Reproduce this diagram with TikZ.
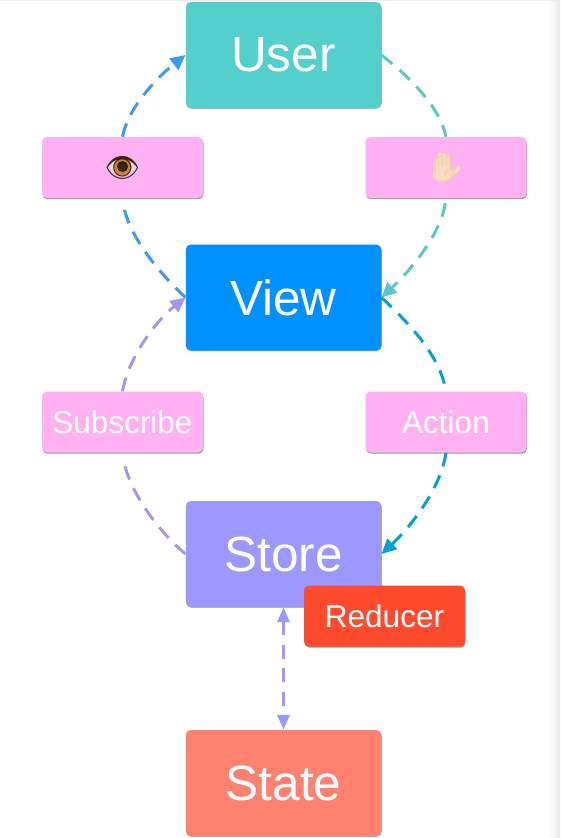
\documentclass[tikz,border=0pt]{standalone}
\usepackage{fontspec}
\setmainfont{Liberation Sans}
\newfontfamily\emojifont{Noto Emoji}
\usetikzlibrary{positioning,shadows,arrows.meta}
\definecolor{usercol}{HTML}{54D0CC}
\definecolor{viewcol}{HTML}{0090FF}
\definecolor{storecol}{HTML}{9C98FF}
\definecolor{statecol}{HTML}{FF8170}
\definecolor{pinkcol}{HTML}{FFB1F2}
\definecolor{reducercol}{HTML}{FF4A2E}
\definecolor{eyecol}{HTML}{3A9BF0}
\definecolor{handcol}{HTML}{5CC7C8}
\definecolor{actioncol}{HTML}{06A0D4}
\definecolor{subcol}{HTML}{A498EE}
\definecolor{skincol}{HTML}{F9DDBE}
\tikzset{
  bigbox/.style={rounded corners=5pt,minimum width=195.5pt,minimum height=106pt,inner sep=0pt,text=white,
    font=\fontsize{49.5}{49}\selectfont,drop shadow={shadow xshift=0.5pt,shadow yshift=-0.8pt,fill=black!30,opacity=1}},
  smallbox/.style={rounded corners=5pt,minimum width=161pt,minimum height=61pt,inner sep=0pt,text=white,
    font=\fontsize{31.5}{32}\selectfont,drop shadow={shadow xshift=0.5pt,shadow yshift=-1.2pt,fill=black!40,opacity=1}},
  flowend/.style={line width=3pt,dash pattern=on 14pt off 9.5pt},
  flow/.style={flowend,-{Triangle[length=15pt,width=14pt]}}
}
\begin{document}
\begin{tikzpicture}[x=1pt,y=-1pt]
      \useasboundingbox (0,0) rectangle (560,838);
      \fill[white] (0,0) rectangle (560,838);
      \shade[left color=white,right color=black!9] (549,0) rectangle (560,838);
      \fill[black!7] (0,0) rectangle (560,1);

      \node[bigbox,fill=usercol] (user) at (283.5,55) {User};
      \node[bigbox,fill=viewcol] (view) at (283.5,297.5) {View};
      \node[bigbox,fill=storecol] (store) at (283.5,554) {Store};
      \node[bigbox,fill=statecol] (state) at (283.5,783) {State};
      \node[smallbox,fill=pinkcol] (eye) at (122.5,167.5) {};
      \node[smallbox,fill=pinkcol] (hand) at (446,167.5) {};
      \node[smallbox,fill=pinkcol] (subscribe) at (122.5,422) {Subscribe};
      \node[smallbox,fill=pinkcol] (action) at (446,422) {Action};
      \node[smallbox,fill=reducercol] (reducer) at (384.5,616) {Reducer};

      \begin{scope}[shift={(eye.center)}]
        \fill[black!12] (-15,-1) .. controls (-6,-13) and (6,-13) .. (15,-1) .. controls (6,11) and (-6,11) .. cycle;
        \fill[brown!70!orange] (0,-1) circle (9);
        \fill[black!80!brown] (0,-1) circle (5.5);
      \end{scope}
      \begin{scope}[shift={(hand.center)}]
        \fill[skincol] (-4,6) circle (9);
        \draw[skincol,line width=4.5pt,line cap=round] (-10,3) -- (-10,-6) (-6,2) -- (-6,-13) (-2,2) -- (-2,-13) (2,4) -- (2,-10) (3,9) -- (12,1);
      \end{scope}
      \node[font=\emojifont\fontsize{28}{28}\selectfont,text=black!70!brown] (eyeglyph) at (eye) {👁};
      \node[font=\emojifont\fontsize{29}{29}\selectfont,text=skincol!85!brown] (handglyph) at (hand) {✋};

      \draw[flowend,eyecol,shorten >=5pt] (view.west) .. controls +(-30,-28) and +(5,35) .. (eye.south);
      \draw[flow,eyecol] (eye.north) .. controls +(6,-30) and +(-28,22) .. (user.west);
      \draw[flowend,handcol] (user.east) .. controls +(28,22) and +(-6,-30) .. (hand.north);
      \draw[flow,handcol,shorten <=5pt] (hand.south) .. controls +(-5,35) and +(30,-28) .. (view.east);
      \draw[flowend,actioncol] (view.east) .. controls +(30,28) and +(-6,-35) .. (action.north);
      \draw[flow,actioncol] (action.south) .. controls +(-5,35) and +(30,-28) .. (store.east);
      \draw[flowend,subcol,shorten >=5pt] (store.west) .. controls +(-30,-25) and +(5,35) .. (subscribe.south);
      \draw[flow,subcol] (subscribe.north) .. controls +(6,-35) and +(-28,22) .. (view.west);
      \draw[flowend,{Triangle[length=15pt,width=12pt]}-{Triangle[length=15pt,width=12pt]},storecol] (store.south) -- (state.north);
\end{tikzpicture}
\end{document}
